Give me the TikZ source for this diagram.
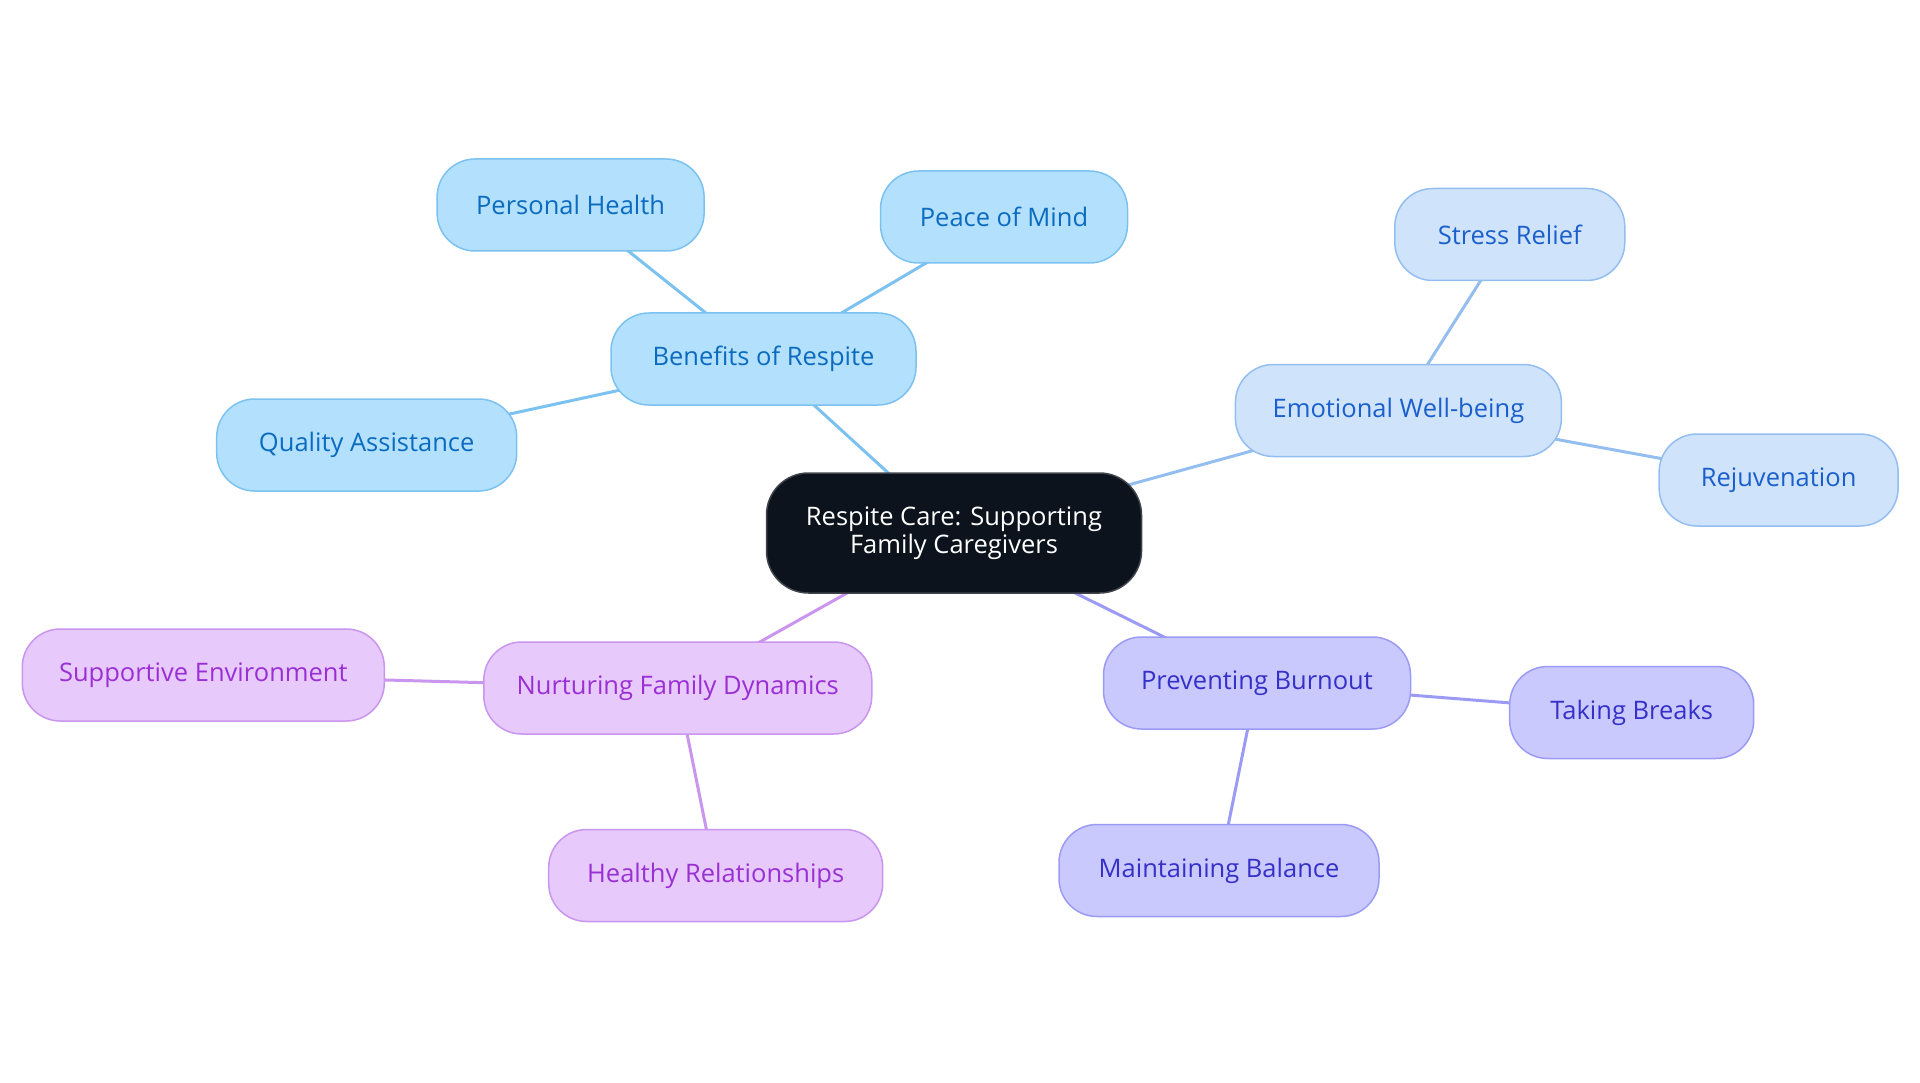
\documentclass[tikz,border=0pt]{standalone}
\usepackage{fontspec}
\setmainfont{Open Sans}
\usetikzlibrary{backgrounds}
\definecolor{rootfill}{HTML}{0D131C}
\definecolor{rootline}{HTML}{40454D}
\definecolor{skyfill}{HTML}{B3E0FD}
\definecolor{skyline}{HTML}{7CC2F0}
\definecolor{skytext}{HTML}{0B6BBF}
\definecolor{palefill}{HTML}{CFE3FB}
\definecolor{paleline}{HTML}{94BEF0}
\definecolor{paletext}{HTML}{1A5FCC}
\definecolor{violfill}{HTML}{C9C9FD}
\definecolor{violline}{HTML}{9B9BF5}
\definecolor{violtext}{HTML}{3530C8}
\definecolor{pinkfill}{HTML}{E7C9FC}
\definecolor{pinkline}{HTML}{C995EE}
\definecolor{pinktext}{HTML}{9A2FD3}
\tikzset{
  pill/.style={draw, line width=1.5pt, rounded corners=38pt, minimum height=92pt, inner sep=0pt, align=center},
  rootbox/.style={pill, fill=rootfill, draw=rootline, text=white, minimum height=120pt, rounded corners=42pt},
  skybox/.style={pill, fill=skyfill, draw=skyline, text=skytext},
  palebox/.style={pill, fill=palefill, draw=paleline, text=paletext},
  violbox/.style={pill, fill=violfill, draw=violline, text=violtext},
  pinkbox/.style={pill, fill=pinkfill, draw=pinkline, text=pinktext},
  link/.style={line width=3pt}
}
\begin{document}
\begin{tikzpicture}[x=1pt, y=-1pt, font=\fontsize{25.5}{28}\selectfont, line join=round, line cap=round]
				\useasboundingbox (0,0) rectangle (1920,1083);
				\node[rootbox, minimum width=375pt] (root) at (954,533) {Respite Care: Supporting\\Family Caregivers};
				\node[skybox, minimum width=305pt] (benefits) at (763.5,359) {Benefits of Respite};
				\node[skybox, minimum width=267pt] (health) at (570.6,205) {Personal Health};
				\node[skybox, minimum width=247pt] (peace) at (1004,217) {Peace of Mind};
				\node[skybox, minimum width=300pt] (quality) at (366.7,445) {Quality Assistance};
				\node[palebox, minimum width=326pt] (emotional) at (1398.4,410.5) {Emotional Well-being};
				\node[palebox, minimum width=230pt] (stress) at (1509.8,234.5) {Stress Relief};
				\node[palebox, minimum width=239pt] (rejuv) at (1778.6,480) {Rejuvenation};
				\node[violbox, minimum width=307pt] (burnout) at (1257,683) {Preventing Burnout};
				\node[violbox, minimum width=244pt] (breaks) at (1631.7,712.5) {Taking Breaks};
				\node[violbox, minimum width=320pt] (balance) at (1219,870.5) {Maintaining Balance};
				\node[pinkbox, minimum width=388pt] (family) at (677.8,688) {Nurturing Family Dynamics};
				\node[pinkbox, minimum width=362pt] (support) at (203.3,675) {Supportive Environment};
				\node[pinkbox, minimum width=334pt] (relations) at (715.7,875.5) {Healthy Relationships};
				\begin{scope}[on background layer]
				\draw[link, skyline] (root.center)--(benefits.center);
				\draw[link, skyline] (benefits.center)--(health.center);
				\draw[link, skyline] (benefits.center)--(peace.center);
				\draw[link, skyline] (benefits.center)--(quality.center);
				\draw[link, paleline] (root.center)--(emotional.center);
				\draw[link, paleline] (emotional.center)--(stress.center);
				\draw[link, paleline] (emotional.center)--(rejuv.center);
				\draw[link, violline] (root.center)--(burnout.center);
				\draw[link, violline] (burnout.center)--(breaks.center);
				\draw[link, violline] (burnout.center)--(balance.center);
				\draw[link, pinkline] (root.center)--(family.center);
				\draw[link, pinkline] (family.center)--(support.center);
				\draw[link, pinkline] (family.center)--(relations.center);
				\end{scope}
			\end{tikzpicture}
\end{document}
